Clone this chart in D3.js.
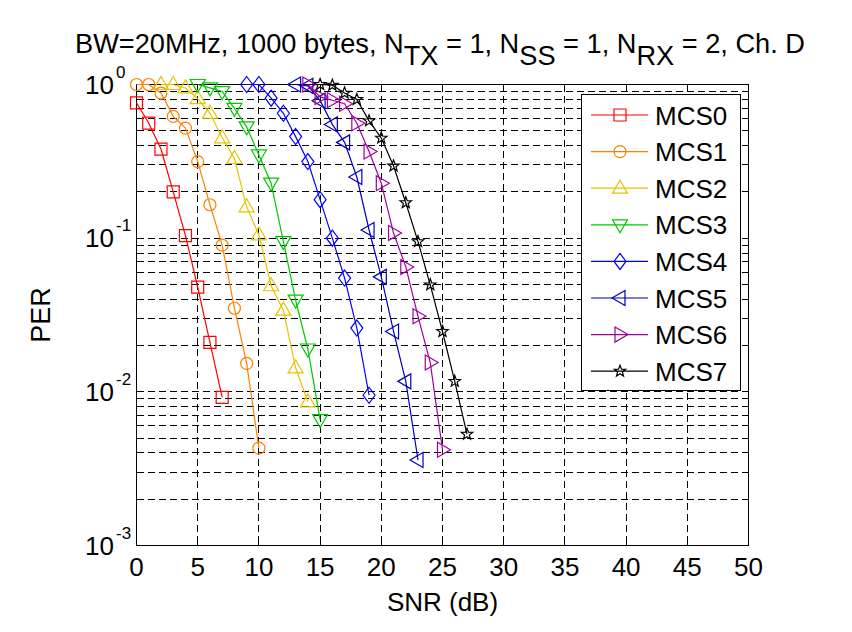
<!DOCTYPE html>
<html><head><meta charset="utf-8">
<script src="https://cdn.jsdelivr.net/npm/d3@7"></script>
<style>
html,body{margin:0;padding:0;background:#fff;}
text{font-family:"Liberation Sans",Arial,Helvetica,sans-serif;fill:#000;}
</style></head>
<body>
<svg id="chart" width="852" height="632"></svg>
<script>
// ---- data ----
const seriesNames = ["MCS0","MCS1","MCS2","MCS3","MCS4","MCS5","MCS6","MCS7"];
const snrStart = [0, 0, 2, 5, 9, 13, 14, 15];
const perMCS0 = [0.76,0.56,0.38,0.2,0.104,0.048,0.021,0.0092];
const perMCS1 = [1,1,0.88,0.62,0.52,0.315,0.165,0.09,0.035,0.0153,0.0043];
const perMCS2 = [1,1,0.95,0.81,0.65,0.45,0.33,0.16,0.105,0.049,0.034,0.0143,0.0086];
const perMCS3 = [1,0.95,0.9,0.70,0.53,0.348,0.228,0.095,0.0395,0.019,0.0066];
const perMCS4 = [1,1,0.815,0.65,0.458,0.315,0.178,0.1,0.055,0.026,0.0095];
const perMCS5 = [1,0.98,0.785,0.55,0.42,0.25,0.113,0.056,0.0247,0.0117,0.0036];
const perMCS6 = [1,0.83,0.79,0.75,0.56,0.366,0.228,0.108,0.065,0.031,0.0155,0.0042];
const perMCS7 = [1,0.99,0.88,0.8,0.58,0.448,0.295,0.17,0.095,0.0497,0.0247,0.0117,0.0053];
const xTicks = [0,5,10,15,20,25,30,35,40,45,50];
const yTickExps = [0,-1,-2,-3];
const colors = ["#ff0000","#ff8000","#e6c300","#00c800","#0000ff","#0000c0","#a000a0","#000000"];
const markerTypes = ["square","circle","triUp","triDown","diamond","triLeft","triRight","star"];
const titleParts = [["BW=20MHz, 1000 bytes, N",0],["TX",1],[" = 1, N",0],["SS",1],[" = 1, N",0],["RX",1],[" = 2, Ch. D",0]];

const perAll = [perMCS0,perMCS1,perMCS2,perMCS3,perMCS4,perMCS5,perMCS6,perMCS7];
const series = seriesNames.map((n,i)=>({name:n,color:colors[i],marker:markerTypes[i],
  pts: perAll[i].map((p,j)=>({x:snrStart[i]+j,y:p}))}));

const svg = d3.select("#chart");
const x = d3.scaleLinear().domain([0,50]).range([136.5,748.5]);
const y = d3.scaleLog().domain([1e-3,1]).range([545.5,84.5]);
const L=x.range()[0], R=x.range()[1], T=y.range()[1], B=y.range()[0];
const px = v => Math.round(v-0.5)+0.5;

// grid
const grid = svg.append("g").attr("stroke","#000").attr("stroke-width",1)
  .attr("stroke-dasharray","7,4").attr("shape-rendering","crispEdges");
const minorVals=[];
for(let e=-3;e<0;e++){for(let k=1;k<=9;k++){minorVals.push(k*Math.pow(10,e));}}
minorVals.push(1);
minorVals.forEach(v=>{ if(v>1e-3 && v<1){
  grid.append("line").attr("x1",L).attr("x2",R).attr("y1",px(y(v))).attr("y2",px(y(v)));}});
xTicks.forEach(v=>{ if(v>0 && v<50){
  grid.append("line").attr("x1",px(x(v))).attr("x2",px(x(v))).attr("y1",T).attr("y2",B);}});

// axes box + ticks
const ax = svg.append("g").attr("stroke","#000").attr("stroke-width",1).attr("shape-rendering","crispEdges");
ax.append("rect").attr("x",L).attr("y",T).attr("width",R-L).attr("height",B-T).attr("fill","none");
xTicks.forEach(v=>{
  ax.append("line").attr("x1",px(x(v))).attr("x2",px(x(v))).attr("y1",B).attr("y2",B-6);
  ax.append("line").attr("x1",px(x(v))).attr("x2",px(x(v))).attr("y1",T).attr("y2",T+6);
});
minorVals.forEach(v=>{
  const major = Math.abs(Math.log10(v)-Math.round(Math.log10(v)))<1e-9;
  const len = major?6:4;
  ax.append("line").attr("x1",L).attr("x2",L+len).attr("y1",px(y(v))).attr("y2",px(y(v)));
  ax.append("line").attr("x1",R).attr("x2",R-len).attr("y1",px(y(v))).attr("y2",px(y(v)));
});

// tick labels
xTicks.forEach(v=>{
  svg.append("text").attr("x",x(v)).attr("y",B+30).attr("text-anchor","middle")
    .attr("font-size",26).text(v);
});
yTickExps.forEach(e=>{
  const yy = y(Math.pow(10,e));
  svg.append("text").attr("x",114).attr("y",yy+9).attr("text-anchor","end").attr("font-size",26).text("10");
  svg.append("text").attr("x",116).attr("y",yy-7).attr("text-anchor","start").attr("font-size",17).text(e===0?"0":"-"+(-e));
});

// axis labels
svg.append("text").attr("x",(L+R)/2).attr("y",611).attr("text-anchor","middle").attr("font-size",26).text("SNR (dB)");
svg.append("text").attr("transform","translate(50,315) rotate(-90)").attr("text-anchor","middle").attr("font-size",27).text("PER");

// title
const title = svg.append("text").attr("x",75).attr("y",53);
function buildTitle(fs){
  title.selectAll("tspan").remove();
  title.attr("font-size",fs);
  let sub=0;
  titleParts.forEach(([t,s])=>{
    const dy = s===sub?0:(s?fs*0.45:-fs*0.45);
    sub=s;
    title.append("tspan").attr("dy",dy).text(t);
  });
}
buildTitle(24);
const tw = title.node().getBBox().width;
buildTitle(24*730/tw);

// markers
function markerPath(type){
  switch(type){
    case "square": return "M-6,-6H6V6H-6Z";
    case "diamond": return "M0,-8L6,0L0,8L-6,0Z";
    case "triUp": return "M0,-8L7.5,5L-7.5,5Z";
    case "triDown": return "M0,8L7.5,-5L-7.5,-5Z";
    case "triLeft": return "M-8,0L5,-7.5L5,7.5Z";
    case "triRight": return "M8,0L-5,-7.5L-5,7.5Z";
    case "star": {
      let p="";
      for(let k=0;k<10;k++){
        const r = k%2===0?6:2.5;
        const a = -Math.PI/2 + k*Math.PI/5;
        p += (k===0?"M":"L")+(r*Math.cos(a)).toFixed(2)+","+(r*Math.sin(a)).toFixed(2);
      }
      return p+"Z";
    }
  }
  return null;
}
function drawMarker(g,type,cx,cy,color){
  if(type==="circle"){
    g.append("circle").attr("cx",cx).attr("cy",cy).attr("r",6).attr("fill","none").attr("stroke",color).attr("stroke-width",1.2);
  } else {
    g.append("path").attr("d",markerPath(type)).attr("transform",`translate(${cx},${cy})`)
      .attr("fill","none").attr("stroke",color).attr("stroke-width",1.2);
  }
}

const line = d3.line().x(d=>x(d.x)).y(d=>y(d.y));
series.forEach(s=>{
  const g = svg.append("g");
  g.append("path").attr("d",line(s.pts)).attr("fill","none").attr("stroke",s.color).attr("stroke-width",1.2);
  s.pts.forEach(p=>drawMarker(g,s.marker,x(p.x),y(p.y),s.color));
});

// legend
const lg = svg.append("g");
lg.append("rect").attr("x",581.5).attr("y",94.5).attr("width",159).attr("height",296).attr("fill","#fff")
  .attr("stroke","#000").attr("stroke-width",1).attr("shape-rendering","crispEdges");
series.forEach((s,i)=>{
  const yy = 115 + i*36.6;
  lg.append("line").attr("x1",591).attr("x2",648).attr("y1",yy).attr("y2",yy).attr("stroke",s.color).attr("stroke-width",1.2);
  drawMarker(lg,s.marker,620,yy,s.color);
  lg.append("text").attr("x",655).attr("y",yy+9.5).attr("font-size",26).text(s.name);
});
</script>
</body></html>
